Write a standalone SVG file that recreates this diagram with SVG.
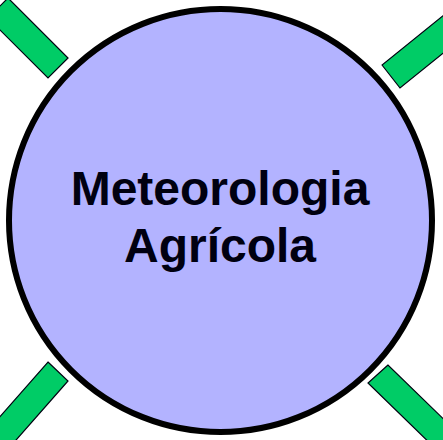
<svg xmlns="http://www.w3.org/2000/svg" width="443" height="440" viewBox="0 0 443 440">
<style>
.bar{fill:#00CC66;stroke:#000010;stroke-width:1.2;stroke-linejoin:miter}
.hub{fill:#B3B3FF;stroke:#000000;stroke-width:6}
.lbl{font-family:"Liberation Sans",Arial,sans-serif;font-weight:bold;font-size:48px;fill:#000010;text-anchor:middle}
</style>
<g id="connectors">
<polygon class="bar" points="68,58 48,78 -12,18 8,-2"/>
<polygon class="bar" points="382,65 400,88 478,25 460,2"/>
<polygon class="bar" points="48,362 68,381 2,456 -18,437"/>
<polygon class="bar" points="388,365 368,383 440,453 460,435"/>
</g>
<g id="hub">
<circle class="hub" cx="220.5" cy="220.5" r="211.5"/>
<text class="lbl" x="220" y="205">Meteorologia</text>
<text class="lbl" x="220" y="262">Agrícola</text>
</g>
</svg>
